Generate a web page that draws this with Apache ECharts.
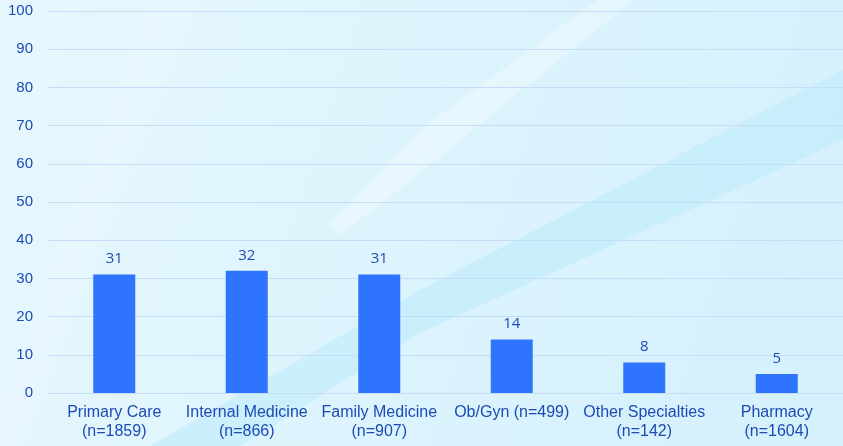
<!DOCTYPE html>
<html><head><meta charset="utf-8">
<script src="https://cdn.jsdelivr.net/npm/echarts@6/dist/echarts.min.js"></script>
<style>html,body{margin:0;padding:0;}#c{width:843px;height:446px;}</style>
</head><body><div id="c"></div>
<script>
const categories = ['Primary Care\n(n=1859)','Internal Medicine\n(n=866)','Family Medicine\n(n=907)','Ob/Gyn (n=499)\n','Other Specialties\n(n=142)','Pharmacy\n(n=1604)'];
const values = [31, 32, 31, 14, 8, 5];
const yTicks = [0,10,20,30,40,50,60,70,80,90,100];

const chart = echarts.init(document.getElementById('c'));
chart.setOption({
  backgroundColor: new echarts.graphic.LinearGradient(0,0,1,0.6,[{offset:0,color:'#e7f7fe'},{offset:0.6,color:'#dbf3fd'},{offset:1,color:'#d5f1fc'}]),
  graphic: [
    {type:'polygon', silent:true, z:-10, shape:{points:[[150,0],[200,0],[20,446],[0,446],[0,400]]}, style:{fill:'rgba(255,255,255,0.15)'}},
    {type:'polygon', silent:true, z:-10, shape:{points:[[597,0],[633,0],[420,173],[340,235],[330,225],[420,130]]}, style:{fill:'rgba(255,255,255,0.3)'}},
    {type:'polygon', silent:true, z:-10, shape:{points:[[843,70],[843,140],[420,333],[240,446],[150,446],[420,290]]}, style:{fill:'rgba(185,233,251,0.5)'}}
  ],
  grid: {left:48, right:0, top:11, bottom:53},
  xAxis: {
    type:'category', data:categories,
    axisLine:{show:false}, axisTick:{show:false},
    axisLabel:{color:'#1d4bb5', fontSize:16, fontFamily:'Liberation Sans', lineHeight:19, margin:10, interval:0}
  },
  yAxis: {
    type:'value', min:0, max:100, interval:10,
    axisLabel:{color:'#1d4bb5', fontSize:15, fontFamily:'Liberation Sans', margin:15,
      formatter: v => yTicks.includes(v) ? String(v) : ''},
    splitLine:{lineStyle:{color:'#c6dcf7', width:1}},
    axisLine:{show:false}, axisTick:{show:false}
  },
  series: [{
    type:'bar', data:values, barWidth:42,
    itemStyle:{color:'#2f74fe'},
    label:{show:true, position:'top', distance:8, color:'#1d4bb5', fontSize:15, fontFamily:'Open Sans'}
  }]
});
</script></body></html>
